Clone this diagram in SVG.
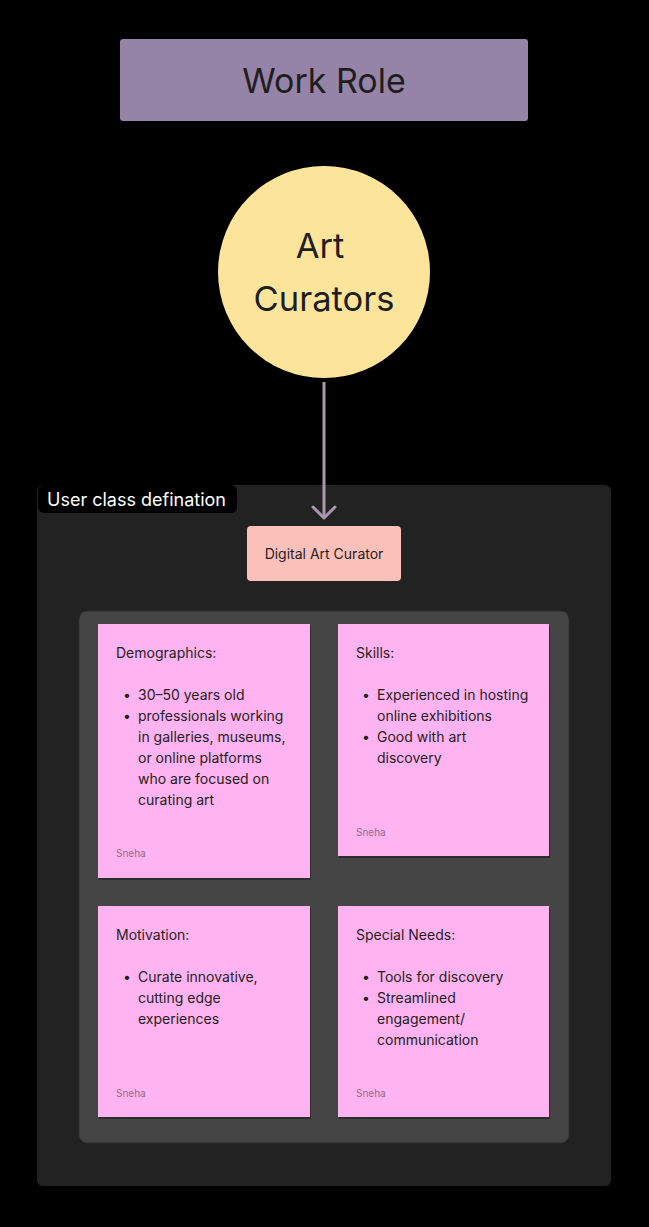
<svg xmlns="http://www.w3.org/2000/svg" width="649" height="1227" viewBox="0 0 649 1227">
<defs>
<style>
text{font-family:Inter,"Noto Sans","Liberation Sans",sans-serif;fill:#1e1e1e}
.note{fill:#FFB3F0}
.shadow{fill:#000;opacity:0.35}
.t{font-size:14px}
.b{font-size:14px}
.s{font-size:10px;fill:#8f6f8c}
</style>
</defs>
<rect width="649" height="1227" fill="#000"/>
<g id="work-role">
<rect x="120" y="39" width="408" height="82" rx="3" fill="#9583A8"/>
<text x="324" y="93" text-anchor="middle" font-size="34">Work Role</text>
</g>
<g id="art-curators">
<circle cx="324" cy="272" r="106" fill="#FCE59B"/>
<text x="320" y="258" text-anchor="middle" font-size="34.5">Art</text>
<text x="324" y="311" text-anchor="middle" font-size="34.5">Curators</text>
</g>
<g id="user-class">
<rect x="37" y="485" width="574" height="701" rx="6" fill="#222"/>
<rect x="38" y="485" width="199" height="28" rx="6" fill="#000"/>
<text x="47" y="506" font-size="18" style="fill:#fff">User class defination</text>
</g>
<g id="connectors">
<line x1="324" y1="382" x2="324" y2="518" stroke="#A898AC" stroke-width="3"/>
<polyline points="313,507 324,518 335,507" fill="none" stroke="#A898AC" stroke-width="3" stroke-linecap="round" stroke-linejoin="round"/>
</g>
<g id="digital-art-curator">
<rect x="247" y="526" width="154" height="55" rx="4" fill="#FCC0BA"/>
<text x="324" y="559" text-anchor="middle" font-size="14">Digital Art Curator</text>
</g>
<g id="panel">
<rect x="79" y="611" width="490" height="532" rx="8" fill="#454545" stroke="#2e2e2e" stroke-width="1"/>
</g>
<g id="demographics">
<rect class="shadow" x="99" y="626" width="212" height="254"/>
<rect class="note" x="98" y="624" width="212" height="254"/>
<text class="t" x="116" y="658">Demographics:</text>
<text class="b" x="123" y="700">•</text>
<text class="b" x="138" y="700">30–50 years old</text>
<text class="b" x="123" y="721">•</text>
<text class="b" x="138" y="721">professionals working</text>
<text class="b" x="138" y="742">in galleries, museums,</text>
<text class="b" x="138" y="763">or online platforms</text>
<text class="b" x="138" y="784">who are focused on</text>
<text class="b" x="138" y="805">curating art</text>
<text class="s" x="116" y="857">Sneha</text>
</g>
<g id="skills">
<rect class="shadow" x="339" y="626" width="211" height="232"/>
<rect class="note" x="338" y="624" width="211" height="232"/>
<text class="t" x="356" y="658">Skills:</text>
<text class="b" x="362" y="700">•</text>
<text class="b" x="377" y="700">Experienced in hosting</text>
<text class="b" x="377" y="721">online exhibitions</text>
<text class="b" x="362" y="742">•</text>
<text class="b" x="377" y="742">Good with art</text>
<text class="b" x="377" y="763">discovery</text>
<text class="s" x="356" y="836">Sneha</text>
</g>
<g id="motivation">
<rect class="shadow" x="99" y="908" width="212" height="211"/>
<rect class="note" x="98" y="906" width="212" height="211"/>
<text class="t" x="116" y="940">Motivation:</text>
<text class="b" x="123" y="982">•</text>
<text class="b" x="138" y="982">Curate innovative,</text>
<text class="b" x="138" y="1003">cutting edge</text>
<text class="b" x="138" y="1024">experiences</text>
<text class="s" x="116" y="1097">Sneha</text>
</g>
<g id="special-needs">
<rect class="shadow" x="339" y="908" width="211" height="211"/>
<rect class="note" x="338" y="906" width="211" height="211"/>
<text class="t" x="356" y="940">Special Needs:</text>
<text class="b" x="362" y="982">•</text>
<text class="b" x="377" y="982">Tools for discovery</text>
<text class="b" x="362" y="1003">•</text>
<text class="b" x="377" y="1003">Streamlined</text>
<text class="b" x="377" y="1024">engagement/</text>
<text class="b" x="377" y="1045">communication</text>
<text class="s" x="356" y="1097">Sneha</text>
</g>
</svg>
